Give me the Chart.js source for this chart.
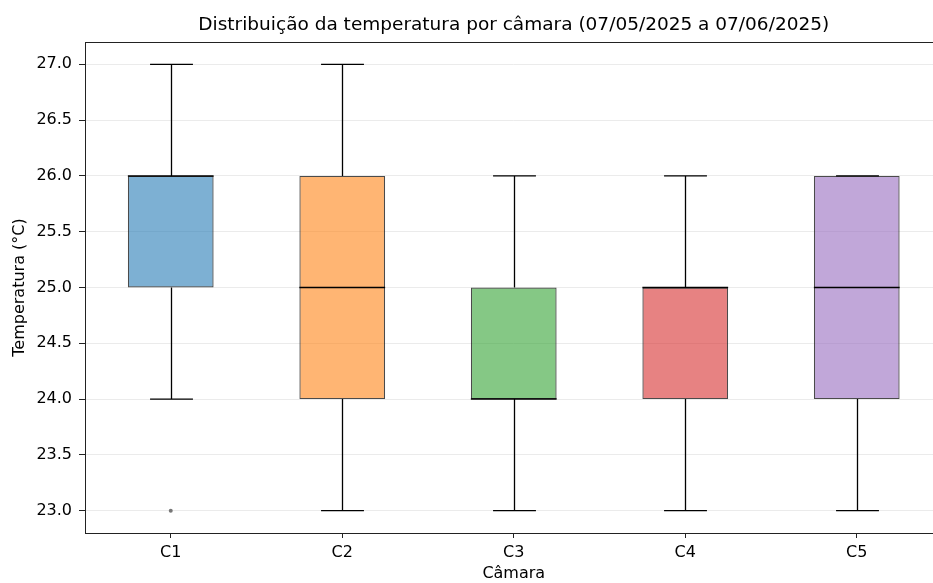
<!DOCTYPE html>
<html>
<head>
<meta charset="utf-8">
<script src="https://cdn.jsdelivr.net/npm/chart.js@4/dist/chart.umd.min.js"></script>
<style>
  html, body { margin: 0; padding: 0; overflow: hidden; background: #fff; }
</style>
</head>
<body>
<canvas id="boxChart" width="1028" height="583"></canvas>
<script>
// Dados (temperatura por câmara)
const cameras = ['C1', 'C2', 'C3', 'C4', 'C5'];
const whiskerLow = [24, 23, 23, 23, 23];
const q1 = [25, 24, 24, 24, 24];
const medians = [26, 25, 24, 25, 25];
const q3 = [26, 26, 25, 25, 26];
const whiskerHigh = [27, 27, 26, 26, 26];
const outliers = [23, null, null, null, null];
const yTicks = [23.0, 23.5, 24.0, 24.5, 25.0, 25.5, 26.0, 26.5, 27.0];

const boxColors = [
    'rgba(31, 119, 180, 0.58)',
    'rgba(255, 127, 14, 0.58)',
    'rgba(44, 160, 44, 0.58)',
    'rgba(214, 39, 40, 0.58)',
    'rgba(148, 103, 189, 0.58)'
];

const font = 'DejaVu Sans';

// bigodes, tampas e medianas desenhados com as escalas do Chart.js
const whiskerPlugin = {
    id: 'whiskers',
    afterDatasetsDraw(chart) {
        const ctx = chart.ctx;
        const x = chart.scales.x;
        const y = chart.scales.y;
        const step = x.getPixelForValue(1) - x.getPixelForValue(0);
        const boxHalf = step * 0.25;
        const capHalf = step * 0.125;
        ctx.save();
        ctx.strokeStyle = '#000';
        ctx.lineWidth = 1.3;
        cameras.forEach((c, i) => {
            const cx = Math.round(x.getPixelForValue(i)) + 0.5;
            const yLow = y.getPixelForValue(whiskerLow[i]);
            const yQ1 = y.getPixelForValue(q1[i]);
            const yQ3 = y.getPixelForValue(q3[i]);
            const yHigh = y.getPixelForValue(whiskerHigh[i]);
            ctx.beginPath();
            ctx.moveTo(cx, yQ1); ctx.lineTo(cx, yLow);
            ctx.moveTo(cx - capHalf, yLow); ctx.lineTo(cx + capHalf, yLow);
            ctx.moveTo(cx, yQ3); ctx.lineTo(cx, yHigh);
            ctx.moveTo(cx - capHalf, yHigh); ctx.lineTo(cx + capHalf, yHigh);
            ctx.stroke();
        });
        ctx.lineWidth = 1.5;
        cameras.forEach((c, i) => {
            const cx = x.getPixelForValue(i);
            const ym = y.getPixelForValue(medians[i]);
            ctx.beginPath();
            ctx.moveTo(cx - boxHalf, ym); ctx.lineTo(cx + boxHalf, ym);
            ctx.stroke();
        });
        ctx.restore();
    },
    afterDraw(chart) {
        const a = chart.chartArea;
        const ctx = chart.ctx;
        ctx.save();
        ctx.strokeStyle = '#222';
        ctx.lineWidth = 1;
        ctx.strokeRect(Math.round(a.left) + 0.5, Math.round(a.top) + 0.5,
            Math.round(a.right - a.left), Math.round(a.bottom - a.top));
        ctx.restore();
    }
};

new Chart(document.getElementById('boxChart'), {
    type: 'bar',
    data: {
        labels: cameras,
        datasets: [{
            label: 'IQR',
            data: cameras.map((c, i) => [q1[i], q3[i]]),
            backgroundColor: boxColors,
            borderColor: 'rgba(30, 30, 30, 0.8)',
            borderWidth: 1.2,
            borderSkipped: false,
            barPercentage: 0.5,
            categoryPercentage: 1.0
        }, {
            type: 'line',
            label: 'Outliers',
            data: outliers,
            showLine: false,
            pointRadius: 2,
            pointBackgroundColor: '#777',
            pointBorderColor: '#777',
            pointBorderWidth: 0
        }]
    },
    options: {
        responsive: false,
        devicePixelRatio: 1,
        animation: false,
        layout: { padding: { left: 0, right: 85.5, top: 0, bottom: 0 } },
        plugins: {
            legend: { display: false },
            tooltip: { enabled: false },
            title: {
                display: true,
                fullSize: false,
                text: 'Distribuição da temperatura por câmara (07/05/2025 a 07/06/2025)',
                color: '#000',
                font: { family: font, size: 18.5, weight: 'normal' },
                padding: { top: 14, bottom: 5.8 }
            }
        },
        scales: {
            x: {
                offset: true,
                grid: { display: true, drawOnChartArea: false, offset: false, tickLength: 5, tickColor: '#222' },
                border: { display: false },
                ticks: { color: '#000', padding: 5, font: { family: font, size: 16 } },
                title: { display: true, text: 'Câmara', color: '#000', padding: 0, font: { family: font, size: 16 } },
                afterFit(scale) { scale.height = 50; }
            },
            y: {
                min: 22.8,
                max: 27.2,
                afterBuildTicks(scale) { scale.ticks = yTicks.map(v => ({ value: v })); },
                grid: { color: '#ebebeb', tickLength: 6, tickColor: '#222' },
                border: { display: false },
                ticks: { color: '#000', padding: 7, font: { family: font, size: 16 }, callback: v => v.toFixed(1) },
                title: { display: true, text: 'Temperatura (°C)', color: '#000', padding: { top: 10, bottom: 0 }, font: { family: font, size: 16 } },
                afterFit(scale) { scale.width = 85; }
            }
        }
    },
    plugins: [whiskerPlugin]
});
</script>
</body>
</html>
